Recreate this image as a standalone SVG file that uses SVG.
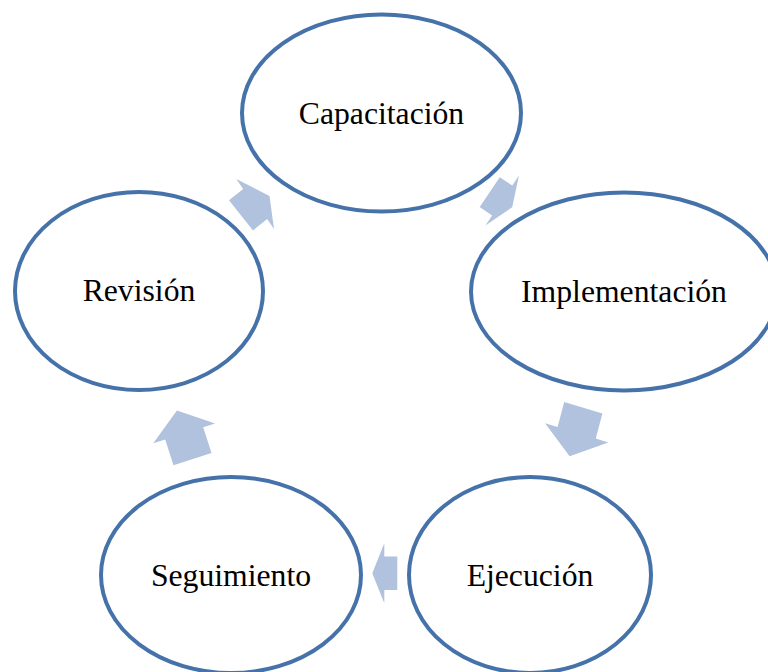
<svg xmlns="http://www.w3.org/2000/svg" width="768" height="672" viewBox="0 0 768 672">
<style>
.node ellipse{fill:#ffffff;stroke:#4672aa;stroke-width:4}
.node text{font-family:"Liberation Serif","Times New Roman",serif;font-size:31.7px;fill:#000;text-anchor:middle}
.arrow{fill:#b0c2de;stroke:none}
</style>
<rect width="768" height="672" fill="#ffffff"/>
<g id="connectors">
<polygon class="arrow" points="499.8,177.2 512.3,185.6 519,175.6 512.2,207.2 485.4,225.4 492.1,215.4 479.7,207.0"/>
<polygon class="arrow" points="564.2,402.0 602.4,413.6 595.8,438.6 608.3,442.4 569.6,456.2 545.1,423.2 557.6,427.0"/>
<polygon class="arrow" points="397.3,556.5 384.3,556.5 384.3,543.3 372.3,573.3 384.3,603.3 384.3,590 397.3,590"/>
<polygon class="arrow" points="211.5,453.1 173.5,465.3 165.2,439.4 153.3,443.2 176.9,410.5 215.1,423.4 203.2,427.2"/>
<polygon class="arrow" points="229,200.2 243.2,188.9 236.3,179 269.5,196 274,229 267.2,219.1 253,230.4"/>
</g>
<g id="node-capacitacion" class="node">
<ellipse cx="381.5" cy="113" rx="139.5" ry="98.5"/>
<text x="381.5" y="124">Capacitación</text>
</g>
<g id="node-implementacion" class="node">
<ellipse cx="624" cy="291.5" rx="153" ry="99"/>
<text x="624" y="301.5">Implementación</text>
</g>
<g id="node-ejecucion" class="node">
<ellipse cx="530" cy="575" rx="121" ry="98"/>
<text x="530" y="586">Ejecución</text>
</g>
<g id="node-seguimiento" class="node">
<ellipse cx="231" cy="575" rx="130" ry="98"/>
<text x="231" y="586">Seguimiento</text>
</g>
<g id="node-revision" class="node">
<ellipse cx="139" cy="291" rx="124" ry="99"/>
<text x="139" y="301">Revisión</text>
</g>
</svg>
